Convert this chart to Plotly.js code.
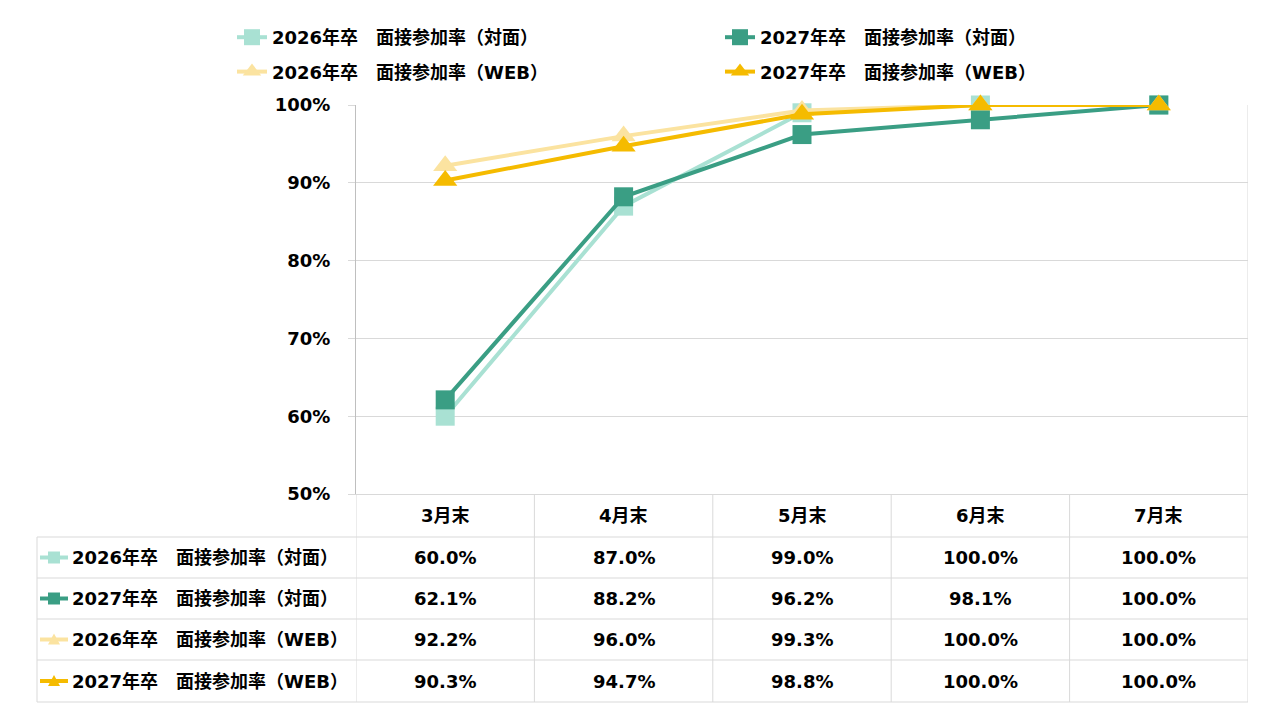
<!DOCTYPE html>
<html>
<head>
<meta charset="utf-8">
<script src="https://cdn.plot.ly/plotly-3.0.1.min.js"></script>
<style>
  html, body { margin: 0; padding: 0; background: #fff; }
  #chart { width: 1280px; height: 720px; }
</style>
</head>
<body>
<div id="chart"></div>
<script>
const months = ['3月末', '4月末', '5月末', '6月末', '7月末'];
const seriesNames = [
    '2026年卒　面接参加率（対面）',
    '2027年卒　面接参加率（対面）',
    '2026年卒　面接参加率（WEB）',
    '2027年卒　面接参加率（WEB）'
];
const rate2026Face = [60.0, 87.0, 99.0, 100.0, 100.0];
const rate2027Face = [62.1, 88.2, 96.2, 98.1, 100.0];
const rate2026Web  = [92.2, 96.0, 99.3, 100.0, 100.0];
const rate2027Web  = [90.3, 94.7, 98.8, 100.0, 100.0];
const seriesValues = [rate2026Face, rate2027Face, rate2026Web, rate2027Web];

const lineColors = ['#a9e1d3', '#3a9e84', '#fbe3a0', '#f5bb00'];
const markerSymbols = ['square', 'square', 'triangle-up', 'triangle-up'];
const markerSizes = [19, 19, 21, 21];
const legendIds = ['legend', 'legend2', 'legend', 'legend2'];

const fontFamily = '"DejaVu Sans", "Noto Sans CJK JP", sans-serif';
const gridColor = '#d9d9d9';

// pixel helpers for the table that sits under the plot area
const plotL = 356, plotR = 1248, plotT = 105, plotB = 494;
const px = x => (x - plotL) / (plotR - plotL);
const py = y => (plotB - y) / (plotB - plotT);

const rowLines = [537, 578, 619, 660, 702];
const tableLeft = 37;

const data = seriesValues.map((vals, i) => ({
    x: months,
    y: vals,
    name: seriesNames[i],
    type: 'scatter',
    mode: 'lines+markers',
    line: { color: lineColors[i], width: 4 },
    marker: { color: lineColors[i], symbol: markerSymbols[i], size: markerSizes[i] },
    cliponaxis: false,
    legend: legendIds[i],
    legendgroup: 'g' + i,
    hoverinfo: 'x+y+name'
}));

const shapes = [];
const annotations = [];

// horizontal table lines
rowLines.forEach(y => {
    shapes.push({
        type: 'line', xref: 'paper', yref: 'paper',
        x0: px(tableLeft), x1: 1, y0: py(y), y1: py(y),
        line: { color: gridColor, width: 1 }
    });
});
// vertical table lines (column borders)
for (let k = 0; k <= months.length; k++) {
    const last = k === months.length;
    shapes.push({
        type: 'line', xref: 'x', yref: 'paper',
        x0: k - 0.5, x1: k - 0.5,
        y0: py(702), y1: last ? 1 : 0,
        line: { color: gridColor, width: 1 }
    });
}
// left border of the label column
shapes.push({
    type: 'line', xref: 'paper', yref: 'paper',
    x0: px(tableLeft), x1: px(tableLeft), y0: py(rowLines[0]), y1: py(702),
    line: { color: gridColor, width: 1 }
});

// header row: month names
months.forEach(m => {
    annotations.push({
        x: m, xref: 'x', y: py(515.5), yref: 'paper',
        text: m, showarrow: false, xanchor: 'center', yanchor: 'middle',
        font: { family: fontFamily, size: 18, color: '#000', weight: 'bold' }
    });
});

// data rows
seriesValues.forEach((vals, i) => {
    const yc = py((rowLines[i] + rowLines[i + 1]) / 2);
    // legend key: line + marker
    shapes.push({
        type: 'line', xref: 'paper', yref: 'paper',
        x0: px(40), x1: px(68), y0: yc, y1: yc,
        line: { color: lineColors[i], width: 4 }
    });
    if (markerSymbols[i] === 'square') {
        shapes.push({
            type: 'rect', xref: 'paper', yref: 'paper',
            xsizemode: 'pixel', ysizemode: 'pixel',
            xanchor: px(54), yanchor: yc,
            x0: -6, x1: 6, y0: -6, y1: 6,
            fillcolor: lineColors[i], line: { width: 0 }
        });
    } else {
        shapes.push({
            type: 'path', xref: 'paper', yref: 'paper',
            xsizemode: 'pixel', ysizemode: 'pixel',
            xanchor: px(54), yanchor: yc,
            path: 'M -6 -5 L 6 -5 L 0 6 Z',
            fillcolor: lineColors[i], line: { width: 0 }
        });
    }
    annotations.push({
        x: px(70), xref: 'paper', y: yc, yref: 'paper',
        text: seriesNames[i], showarrow: false, xanchor: 'left', yanchor: 'middle',
        font: { family: fontFamily, size: 18, color: '#000', weight: 'bold' }
    });
    vals.forEach((v, j) => {
        annotations.push({
            x: months[j], xref: 'x', y: yc, yref: 'paper',
            text: v.toFixed(1) + '%', showarrow: false, xanchor: 'center', yanchor: 'middle',
            font: { family: fontFamily, size: 18, color: '#000', weight: 'bold' }
        });
    });
});

const legendFont = { family: fontFamily, size: 18, color: '#000', weight: 'bold' };

const layout = {
    width: 1280,
    height: 720,
    margin: { l: plotL, r: 1280 - plotR, t: plotT, b: 720 - plotB, pad: 0 },
    paper_bgcolor: '#ffffff',
    plot_bgcolor: '#ffffff',
    font: { family: fontFamily, color: '#000' },
    showlegend: true,
    legend: {
        x: px(232), xanchor: 'left', y: py(19), yanchor: 'top',
        orientation: 'v', font: legendFont, tracegroupgap: 8,
        itemwidth: 30, bgcolor: 'rgba(0,0,0,0)'
    },
    legend2: {
        x: px(720), xanchor: 'left', y: py(19), yanchor: 'top',
        orientation: 'v', font: legendFont, tracegroupgap: 8,
        itemwidth: 30, bgcolor: 'rgba(0,0,0,0)'
    },
    xaxis: {
        type: 'category',
        range: [-0.5, months.length - 0.5],
        showgrid: false,
        showline: true,
        linecolor: gridColor,
        linewidth: 1,
        showticklabels: false,
        ticks: '',
        zeroline: false,
        fixedrange: true
    },
    yaxis: {
        range: [50, 100],
        dtick: 10,
        ticksuffix: '%',
        showgrid: true,
        gridcolor: gridColor,
        gridwidth: 1,
        showline: true,
        linecolor: '#bfbfbf',
        linewidth: 1,
        ticks: 'outside',
        ticklen: 7,
        tickcolor: gridColor,
        ticklabelstandoff: 14,
        zeroline: false,
        tickfont: { family: fontFamily, size: 18, color: '#000', weight: 'bold' },
        fixedrange: true
    },
    shapes: shapes,
    annotations: annotations
};

const config = {
    responsive: false,
    displaylogo: false,
    displayModeBar: false
};

Plotly.newPlot('chart', data, layout, config);
</script>
</body>
</html>
